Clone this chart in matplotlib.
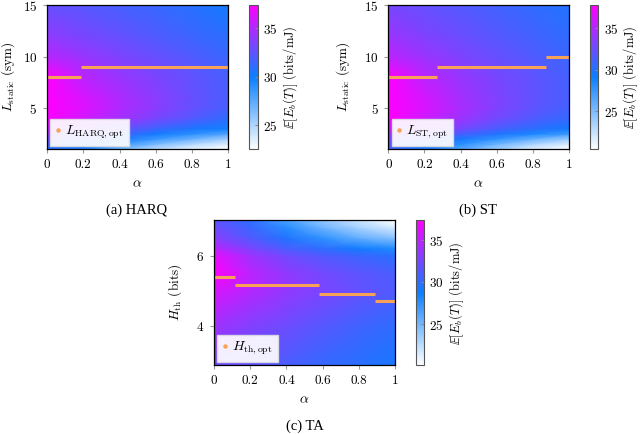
import numpy as np
import matplotlib
matplotlib.use("Agg")
from matplotlib import pyplot as plt
from matplotlib.colors import LinearSegmentedColormap
from matplotlib.lines import Line2D

plt.rcParams["font.family"] = "serif"
plt.rcParams["font.serif"] = ["cmr10"]
plt.rcParams["mathtext.fontset"] = "cm"
plt.rcParams["axes.formatter.use_mathtext"] = True
plt.rcParams["font.size"] = 9

alpha_grid = [0.0, 0.2, 0.4, 0.6, 0.8, 1.0]

# (a) HARQ, rows follow L_grid
L_grid = [1, 1.5, 2, 2.5, 3, 4, 5, 6, 8, 10, 12, 15]
harq_eff = [
    [30.5, 29.5, 26.5, 24.5, 23.2, 22.5],
    [32.0, 30.8, 28.5, 26.5, 24.8, 23.5],
    [33.2, 32.0, 30.3, 28.5, 27.0, 25.3],
    [34.5, 33.2, 31.6, 30.2, 29.0, 27.8],
    [35.8, 34.4, 32.8, 31.5, 30.5, 29.8],
    [37.2, 36.0, 34.6, 33.3, 32.2, 31.1],
    [37.8, 36.4, 35.0, 33.8, 32.7, 31.7],
    [38.0, 36.2, 34.9, 33.8, 32.8, 31.9],
    [37.6, 35.3, 34.3, 33.4, 32.6, 31.8],
    [35.2, 34.3, 33.5, 32.8, 32.1, 31.4],
    [34.0, 33.3, 32.7, 32.1, 31.5, 30.9],
    [32.8, 32.3, 31.8, 31.3, 30.8, 30.2],
]
harq_breaks = [0.0, 0.19, 1.0]
harq_Lopt = [8, 9]

# (b) ST
st_eff = [
    [31.0, 29.0, 26.5, 23.8, 21.5, 20.4],
    [32.0, 30.2, 28.0, 25.5, 23.3, 21.8],
    [33.2, 31.5, 29.6, 27.8, 25.8, 24.0],
    [34.6, 33.0, 31.3, 29.9, 28.6, 27.4],
    [36.0, 34.4, 32.9, 31.4, 30.3, 29.4],
    [38.0, 36.0, 34.3, 32.8, 31.6, 30.6],
    [38.4, 36.4, 34.7, 33.3, 32.1, 31.1],
    [38.2, 36.2, 34.6, 33.3, 32.2, 31.3],
    [37.8, 35.4, 34.1, 33.0, 32.1, 31.2],
    [35.4, 34.2, 33.2, 32.4, 31.6, 30.8],
    [34.2, 33.3, 32.5, 31.8, 31.1, 30.4],
    [33.0, 32.3, 31.7, 31.1, 30.5, 29.9],
]
st_breaks = [0.0, 0.27, 0.87, 1.0]
st_Lopt = [8, 9, 10]

# (c) TA, rows follow H_grid
H_grid = [2.9, 4.0, 5.0, 5.5, 6.0, 6.2, 6.5, 6.8, 7.0]
ta_eff = [
    [32.5, 31.8, 31.0, 30.3, 29.8, 29.3],
    [34.0, 33.0, 32.2, 31.4, 30.7, 30.0],
    [36.0, 34.7, 33.6, 32.7, 31.9, 31.2],
    [37.8, 35.0, 33.5, 32.5, 31.7, 31.0],
    [36.5, 34.0, 32.3, 31.2, 30.5, 29.8],
    [35.0, 32.8, 31.0, 30.0, 29.0, 28.0],
    [33.2, 31.3, 29.5, 27.5, 25.6, 24.3],
    [32.3, 30.5, 27.8, 25.2, 23.2, 21.5],
    [31.8, 30.0, 26.5, 24.0, 22.0, 20.1],
]
ta_breaks = [0.0, 0.118, 0.578, 0.888, 1.0]
ta_Hopt = [5.4, 5.17, 4.93, 4.71]

cmap = LinearSegmentedColormap.from_list(
    "wbm", [(0.0, "#ffffff"), (0.5, "#0a80ff"), (1.0, "#ff00ff")])
orange = "#f7a257"
W, H = 640, 434


def panel(ax_rect, cb_rect, ygrid, eff, vmin, vmax, breaks, opt,
          ylim, yticks, ylabel, leglabel, ylab_x):
    ax = fig.add_axes(ax_rect)
    A, Y = np.meshgrid(alpha_grid, ygrid)
    mesh = ax.pcolormesh(A, Y, np.array(eff), cmap=cmap, vmin=vmin, vmax=vmax,
                         shading="gouraud", rasterized=True)
    for i in range(len(opt)):
        ax.hlines(opt[i], breaks[i], breaks[i + 1], color=orange, lw=2.2,
                  capstyle="butt")
    ax.set_xlim(0, 1)
    ax.set_ylim(*ylim)
    ax.set_xticks([0, 0.2, 0.4, 0.6, 0.8, 1])
    ax.set_xticklabels(["0", "0.2", "0.4", "0.6", "0.8", "1"])
    ax.set_yticks(yticks)
    ax.tick_params(direction="out", length=3, color="#999999", pad=4,
                   labelsize=9.5)
    for s in ax.spines.values():
        s.set_linewidth(0.9)
    ax.set_xlabel(r"$\alpha$", fontsize=10)
    ax.xaxis.set_label_coords(0.5, -0.2)
    ax.set_ylabel(ylabel, fontsize=9.5)
    ax.yaxis.set_label_coords(ylab_x, 0.5)
    h = Line2D([], [], ls="none", marker="o", ms=2.2, color=orange)
    ax.legend([h], [leglabel], loc="lower left", fancybox=False,
              framealpha=0.92, edgecolor="#dddddd", fontsize=10,
              handlelength=0.4, handletextpad=0.3, borderpad=0.35,
              borderaxespad=0.25)

    cax = fig.add_axes(cb_rect)
    cb = fig.colorbar(mesh, cax=cax)
    cb.set_ticks([25, 30, 35])
    cb.outline.set_edgecolor("#555555")
    cb.outline.set_linewidth(0.8)
    cax.tick_params(direction="in", length=2, color="#888888", pad=4,
                    labelsize=9.5)
    return ax, cax


def rect(x0, y0, x1, y1):
    return [x0 / W, 1 - y1 / H, (x1 - x0) / W, (y1 - y0) / H]


fig = plt.figure(figsize=(6.4, 4.34), dpi=100)

panel(rect(47, 5, 228.3, 149.3), rect(249, 5, 257.5, 149.3), L_grid, harq_eff,
      22.5, 37.4, harq_breaks, harq_Lopt, (1, 15), [5, 10, 15],
      r"$L_{\mathrm{static}}$ (sym)", r"$L_{\mathrm{HARQ,opt}}$", -0.165)
panel(rect(388.3, 5, 569, 149.3), rect(590, 5, 598, 149.3), L_grid, st_eff,
      20.4, 37.8, st_breaks, st_Lopt, (1, 15), [5, 10, 15],
      r"$L_{\mathrm{static}}$ (sym)", r"$L_{\mathrm{ST,opt}}$", -0.2)
panel(rect(214, 220.3, 395, 365.3), rect(416, 220.3, 423.5, 365.3), H_grid,
      ta_eff, 20.1, 37.4, ta_breaks, ta_Hopt, (2.9, 7.0), [4, 6],
      r"$H_{\mathrm{th}}$ (bits)", r"$H_{\mathrm{th,opt}}$", -0.165)

cb_label = r"$\mathbb{E}[E_b(T)]$ (bits/mJ)"
for x, yc in [(291, 77), (631, 77), (457, 293)]:
    fig.text(x / W, 1 - yc / H, cb_label, rotation=90, ha="center",
             va="center", fontsize=9)

for x, y, t in [(137, 210, "(a) HARQ"), (478, 210, "(b) ST"),
                (305, 426, "(c) TA")]:
    fig.text(x / W, 1 - y / H, t, ha="center", va="center", fontsize=10.5,
             family="Liberation Serif")

fig.savefig("out.png", dpi=100)
